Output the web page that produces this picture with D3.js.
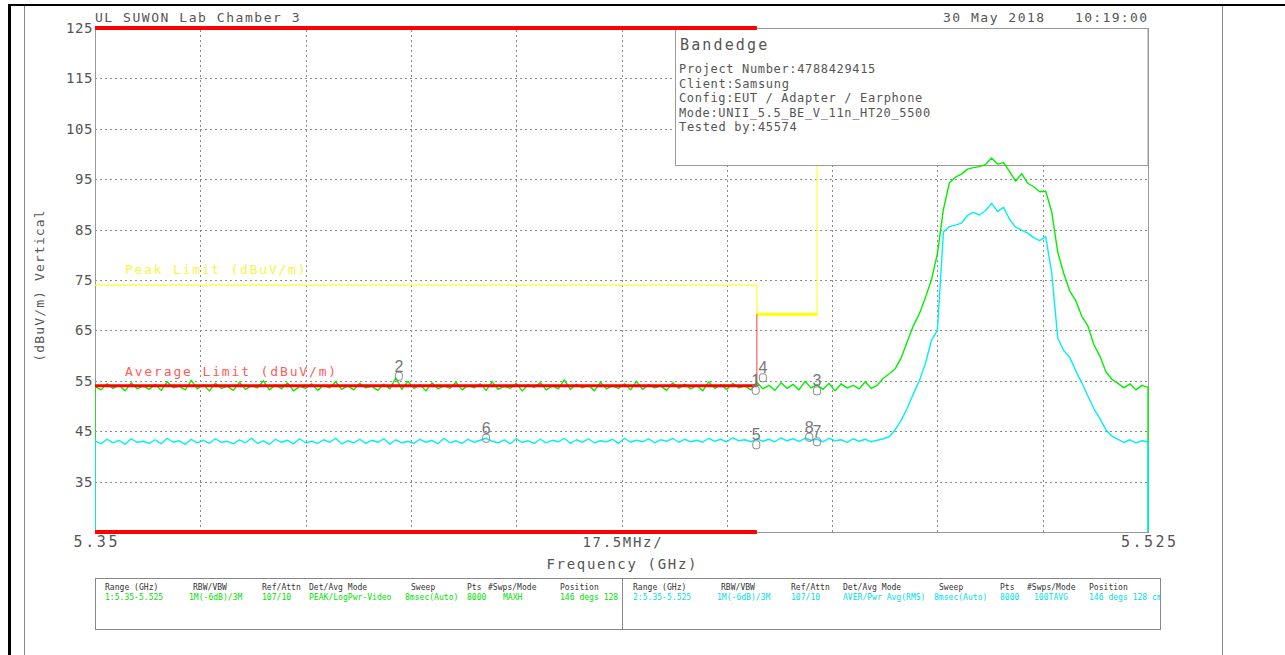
<!DOCTYPE html>
<html><head><meta charset="utf-8">
<script src="https://cdn.jsdelivr.net/npm/d3@7"></script>
<style>
html,body{margin:0;padding:0;background:#fff;}
svg{display:block;}
</style></head>
<body>
<svg id="chart" width="1285" height="655"></svg>
<script>
// ---------------- DATA ----------------
const sweepStart = 5.35, sweepStop = 5.525;     // GHz
const yTicks = [35, 45, 55, 65, 75, 85, 95, 105, 115, 125];
const xTickLabels = ["5.35", "17.5MHz/", "5.525"];
const xDivisions = 10;

// Trace 1: Peak (MAXH), dBuV/m, one value per 1 MHz
const peakTrace = [
 53.9,53.2,54.4,53.5,54.1,53.0,54.6,53.4,54.0,53.3,
 54.3,53.1,54.8,53.6,53.9,53.2,55.1,53.4,54.2,53.0,
 54.5,53.5,53.9,53.1,54.7,53.3,54.0,53.6,55.0,53.2,
 54.2,53.4,54.6,53.0,53.9,53.5,54.4,53.1,54.1,53.6,
 54.8,53.3,54.0,53.2,54.5,53.6,53.9,53.1,54.3,53.4,
 55.6,53.3,54.9,53.5,54.2,53.0,54.6,53.4,54.0,53.5,
 54.7,53.2,54.1,53.6,54.4,53.1,54.8,53.3,53.9,53.5,
 54.5,53.0,54.2,53.7,54.6,53.2,54.0,53.4,55.2,53.3,
 54.3,53.6,54.1,53.0,54.7,53.4,54.0,53.5,54.4,53.2,
 54.9,53.3,54.2,53.6,54.0,53.1,54.6,53.5,54.3,53.4,
 54.1,53.0,54.8,53.5,54.2,53.3,54.5,53.6,54.0,53.2,
 54.7,53.4,54.1,53.1,54.6,53.5,54.3,53.2,54.9,53.6,
 54.2,53.3,54.5,53.0,54.4,53.6,54.1,53.4,54.8,53.5,
 54.1,55.5,56.4,57.4,59.6,62.8,65.9,68.3,71.5,75.0,
 80.2,89.0,94.3,95.4,96.0,97.0,97.3,97.5,97.9,99.2,
 98.0,98.3,96.5,94.6,96.1,94.2,93.5,92.5,92.6,88.5,
 80.5,76.3,72.8,70.9,67.8,65.9,62.2,59.9,56.8,55.3,
 54.5,53.6,54.4,53.2,54.1,53.7
];
// Trace 2: Average (RMS), dBuV/m
const avgTrace = [
 43.1,42.5,43.4,42.7,43.2,42.4,43.5,42.8,43.0,42.6,
 43.3,42.5,43.6,42.8,43.1,42.4,43.4,42.7,43.2,42.6,
 43.5,42.8,43.0,42.5,43.3,42.7,43.6,42.6,43.1,42.4,
 43.4,42.8,43.2,42.5,43.5,42.7,43.0,42.6,43.3,42.8,
 43.6,42.5,43.1,42.7,43.4,42.6,43.2,42.8,43.5,42.4,
 43.3,42.7,43.0,42.6,43.4,42.8,43.2,42.5,43.6,42.7,
 43.1,42.6,43.4,42.8,43.2,43.6,43.0,42.7,43.3,42.5,
 43.5,42.8,43.1,42.6,43.4,42.7,43.2,42.9,43.6,42.6,
 43.3,42.8,43.5,42.7,43.1,42.9,43.4,42.6,43.6,42.8,
 43.2,42.9,43.5,42.7,43.3,43.0,43.6,42.8,43.4,42.9,
 43.2,42.8,43.6,43.0,43.4,42.9,43.7,43.1,43.3,42.9,
 43.5,43.0,43.4,42.9,43.7,43.1,43.5,43.0,43.6,43.2,
 43.4,42.9,43.6,43.1,43.3,42.8,43.5,43.0,43.4,42.9,
 43.2,43.5,43.9,45.3,47.2,49.6,52.4,55.0,58.4,63.0,
 65.0,84.5,85.6,85.9,86.3,87.8,88.4,87.9,88.8,90.2,
 88.6,89.4,87.0,85.5,84.9,84.3,83.4,82.8,83.6,76.4,
 63.5,61.0,59.6,57.0,54.6,52.0,49.5,47.5,45.3,44.0,
 43.4,42.8,43.3,42.7,43.1,42.9
];

// Limits
const peakLimitFreq  = [5.35, 5.46, 5.46, 5.47, 5.47];
const peakLimitValue = [74,   74,   68.2, 68.2, 122.2];
const avgLimitFreq   = [5.35, 5.46, 5.46];
const avgLimitValue  = [54,   54,   68.2];
const restrictedBand = [5.35, 5.46];

// Markers
const markerIds   = ["1", "2", "3", "4", "5", "6", "7", "8"];
const markerFreq  = [5.4598, 5.4005, 5.4700, 5.4610, 5.4599, 5.4150, 5.4700, 5.4687];
const markerValue = [53.1, 55.9, 53.0, 55.6, 42.3, 43.6, 42.9, 43.8];

// Texts
const titleText = "UL SUWON Lab Chamber 3";
const dateText = "30 May 2018", timeText = "10:19:00";
const infoTitle = "Bandedge";
const infoLines = ["Project Number:4788429415", "Client:Samsung",
  "Config:EUT / Adapter / Earphone", "Mode:UNII_5.5_BE_V_11n_HT20_5500", "Tested by:45574"];
const tableHeaders = ["Range (GHz)", "RBW/VBW", "Ref/Attn", "Det/Avg Mode", "Sweep", "Pts", "#Swps/Mode", "Position"];
const table1Values = ["1:5.35-5.525", "1M(-6dB)/3M", "107/10", "PEAK/LogPwr-Video", "8msec(Auto)", "8000", "MAXH", "146 degs 128 cm"];
const table2Values = ["2:5.35-5.525", "1M(-6dB)/3M", "107/10", "AVER/Pwr Avg(RMS)", "8msec(Auto)", "8000", "100TAVG", "146 degs 128 cm"];

// ---------------- DRAW ----------------
const svg = d3.select("#chart");
const L = 95, R = 1148, T = 28, B = 532;
const x = d3.scaleLinear().domain([sweepStart, sweepStop]).range([L, R]);
const y = d3.scaleLinear().domain([25, 125]).range([B, T]);
const MONO = "'DejaVu Sans Mono', 'Liberation Mono', monospace";
const GREEN = "#00f000", CYAN = "#00f0f0", TXT = "#555";

function mono(g, px, py, str, size, cw, anchor, fill) {
  return g.append("text").attr("x", px).attr("y", py)
    .attr("font-family", MONO).attr("font-size", size)
    .attr("text-anchor", anchor || "start").attr("fill", fill || TXT)
    .attr("textLength", str.length * cw).attr("lengthAdjust", "spacing")
    .text(str);
}

// page frame
svg.append("line").attr("x1", 8).attr("x2", 1285).attr("y1", 5).attr("y2", 5).attr("stroke", "#000").attr("stroke-width", 2);
svg.append("line").attr("x1", 9.5).attr("x2", 9.5).attr("y1", 4).attr("y2", 655).attr("stroke", "#000").attr("stroke-width", 3);
svg.append("line").attr("x1", 24.5).attr("x2", 24.5).attr("y1", 6).attr("y2", 655).attr("stroke", "#888").attr("stroke-width", 1);
svg.append("line").attr("x1", 1222.5).attr("x2", 1222.5).attr("y1", 6).attr("y2", 655).attr("stroke", "#888").attr("stroke-width", 1);

// grid
const divW = (sweepStop - sweepStart) / xDivisions;
const xGridVals = d3.range(1, xDivisions).map(i => sweepStart + i * divW);
const gx = svg.append("g").attr("transform", `translate(0,${B})`)
  .call(d3.axisBottom(x).tickValues(xGridVals).tickSize(-(B - T)).tickFormat(""));
gx.select(".domain").remove();
gx.selectAll("line").attr("stroke", "#8a8a8a").attr("stroke-dasharray", "2,3").attr("shape-rendering", "crispEdges");
const gy = svg.append("g").attr("transform", `translate(${L},0)`)
  .call(d3.axisLeft(y).tickValues(yTicks.filter(v => v < 125)).tickSize(-(R - L)).tickFormat(""));
gy.select(".domain").remove();
gy.selectAll("line").attr("stroke", "#8a8a8a").attr("stroke-dasharray", "2,3").attr("shape-rendering", "crispEdges");

// plot frame
svg.append("rect").attr("x", L).attr("y", T).attr("width", R - L).attr("height", B - T)
  .attr("fill", "none").attr("stroke", "#999").attr("stroke-width", 1).attr("shape-rendering", "crispEdges");

// y tick labels
const ay = svg.append("g").attr("transform", `translate(${L - 2},0)`)
  .call(d3.axisLeft(y).tickValues(yTicks).tickSize(0).tickPadding(0).tickFormat(d3.format("d")));
ay.select(".domain").remove();
ay.selectAll("text").attr("font-family", MONO).attr("font-size", 14).attr("fill", TXT)
  .attr("letter-spacing", 0.6);

// x tick labels
const xTickVals = [sweepStart, (sweepStart + sweepStop) / 2, sweepStop];
const ax = svg.append("g").attr("transform", `translate(0,${B})`)
  .call(d3.axisBottom(x).tickValues(xTickVals).tickSize(0).tickPadding(4)
    .tickFormat((d, i) => xTickLabels[i]));
ax.select(".domain").remove();
ax.selectAll("text").attr("font-family", MONO).attr("fill", TXT)
  .attr("font-size", (d, i) => i === 1 ? 14 : 15)
  .attr("textLength", (d, i) => xTickLabels[i].length * (i === 1 ? 9.9 : 11))
  .attr("lengthAdjust", "spacing")
  .attr("dy", (d, i) => i === 1 ? "0.78em" : "0.72em");

// axis titles
mono(svg, (L + R) / 2, 569, "Frequency (GHz)", 14, 10, "middle");
const yt = svg.append("g").attr("transform", `translate(44,${286}) rotate(-90)`);
mono(yt, 0, 0, "(dBuV/m) Vertical", 13, 8.9, "middle");

// header
mono(svg, L, 22, titleText, 13, 9.3);
mono(svg, 943, 22, dateText, 13, 9.2);
mono(svg, 1075, 22, timeText, 13, 9.0);

// clip
svg.append("clipPath").attr("id", "plotclip").append("rect")
  .attr("x", L).attr("y", T - 3).attr("width", R - L + 1).attr("height", B - T + 6);
const plot = svg.append("g").attr("clip-path", "url(#plotclip)");
const line = d3.line().x(d => x(d.f)).y(d => y(d.v));

// peak limit (drawn under the info box)
const pkLim = peakLimitFreq.map((f, i) => ({ f, v: peakLimitValue[i] }));
plot.append("path").datum(pkLim).attr("d", line).attr("fill", "none")
  .attr("stroke", "#ffff30").attr("stroke-width", 1.2);
plot.append("path").datum(pkLim.slice(2, 4)).attr("d", line).attr("fill", "none")
  .attr("stroke", "#ffff00").attr("stroke-width", 3);

// info box
svg.append("rect").attr("x", 675.5).attr("y", T + 0.5).attr("width", R - 675.5).attr("height", 137)
  .attr("fill", "#fff").attr("stroke", "#999").attr("stroke-width", 1);
mono(svg, 680, 50, infoTitle, 15, 10.9);
infoLines.forEach((s, i) => mono(svg, 679, 73 + i * 14.5, s, 12, 7.85));

// traces (drawn over the info box, as in the original plot)
const plot2 = svg.append("g").attr("clip-path", "url(#plotclip)");
const nPts = peakTrace.length;
const freqs = peakTrace.map((_, i) => sweepStart + i * (sweepStop - sweepStart) / (nPts - 1));
const floorV = y.domain()[0];
function traceData(vals) {
  const pts = vals.map((v, i) => ({ f: freqs[i], v }));
  return [{ f: freqs[0], v: floorV }, ...pts, { f: freqs[nPts - 1], v: floorV }];
}
plot2.append("path").datum(traceData(peakTrace)).attr("d", line)
  .attr("fill", "none").attr("stroke", GREEN).attr("stroke-width", 1.4).attr("stroke-linejoin", "round");
plot2.append("path").datum(traceData(avgTrace)).attr("d", line)
  .attr("fill", "none").attr("stroke", CYAN).attr("stroke-width", 1.4).attr("stroke-linejoin", "round");

// average limit
const avgLim = avgLimitFreq.map((f, i) => ({ f, v: avgLimitValue[i] }));
plot2.append("path").datum(avgLim).attr("d", line).attr("fill", "none")
  .attr("stroke", "#f04040").attr("stroke-width", 1);
plot2.append("path").datum(avgLim.filter(d => d.v === avgLimitValue[0])).attr("d", line)
  .attr("fill", "none").attr("stroke", "#ff0000").attr("stroke-width", 3);

// restricted band bars
[125, 25].forEach(v => {
  svg.append("line").attr("x1", x(restrictedBand[0])).attr("x2", x(restrictedBand[1]))
    .attr("y1", y(v)).attr("y2", y(v)).attr("stroke", "#ff0000").attr("stroke-width", 4);
});

// limit labels
mono(svg, 125, 274, "Peak Limit (dBuV/m)", 13, 9.5, "start", "#f5f545");
mono(svg, 125, 376, "Average Limit (dBuV/m)", 13, 9.6, "start", "#ff5c5c");

// markers
const mk = svg.append("g");
markerIds.forEach((id, i) => {
  const mx = x(markerFreq[i]), my = y(markerValue[i]);
  mk.append("rect").attr("x", mx - 3.5).attr("y", my - 4).attr("width", 7).attr("height", 8)
    .attr("rx", 2.5).attr("fill", "none").attr("stroke", "#888").attr("stroke-width", 1);
  mk.append("text").attr("x", mx).attr("y", my - 4.5).attr("text-anchor", "middle")
    .attr("font-family", "'Liberation Sans', Arial, sans-serif").attr("font-size", 16)
    .attr("fill", "#777").text(id);
});

// settings table
svg.append("rect").attr("x", 95.5).attr("y", 578.5).attr("width", 1065).attr("height", 51)
  .attr("fill", "none").attr("stroke", "#888");
svg.append("line").attr("x1", 622.5).attr("x2", 622.5).attr("y1", 578).attr("y2", 630).attr("stroke", "#888");
svg.append("clipPath").attr("id", "tclip1").append("rect").attr("x", 96).attr("y", 579).attr("width", 526).attr("height", 50);
svg.append("clipPath").attr("id", "tclip2").append("rect").attr("x", 623).attr("y", 579).attr("width", 537).attr("height", 50);
const colX1h = [105, 193, 262, 309, 411, 467, 488, 560];
const colX1v = [105, 189, 262, 309, 405, 467, 503, 560];
const colX2h = [633, 721, 791, 843, 939, 1000, 1027, 1089];
const colX2v = [633, 717, 791, 843, 934, 1000, 1034, 1089];
const t1 = svg.append("g").attr("clip-path", "url(#tclip1)");
const t2 = svg.append("g").attr("clip-path", "url(#tclip2)");
tableHeaders.forEach((h, i) => {
  mono(t1, colX1h[i], 590, h, 8, 4.85, "start", "#333");
  mono(t2, colX2h[i], 590, h, 8, 4.85, "start", "#333");
  mono(t1, colX1v[i], 600, table1Values[i], 8, 4.85, "start", "#00e000");
  mono(t2, colX2v[i], 600, table2Values[i], 8, 4.85, "start", "#00dede");
});
</script>
</body></html>
